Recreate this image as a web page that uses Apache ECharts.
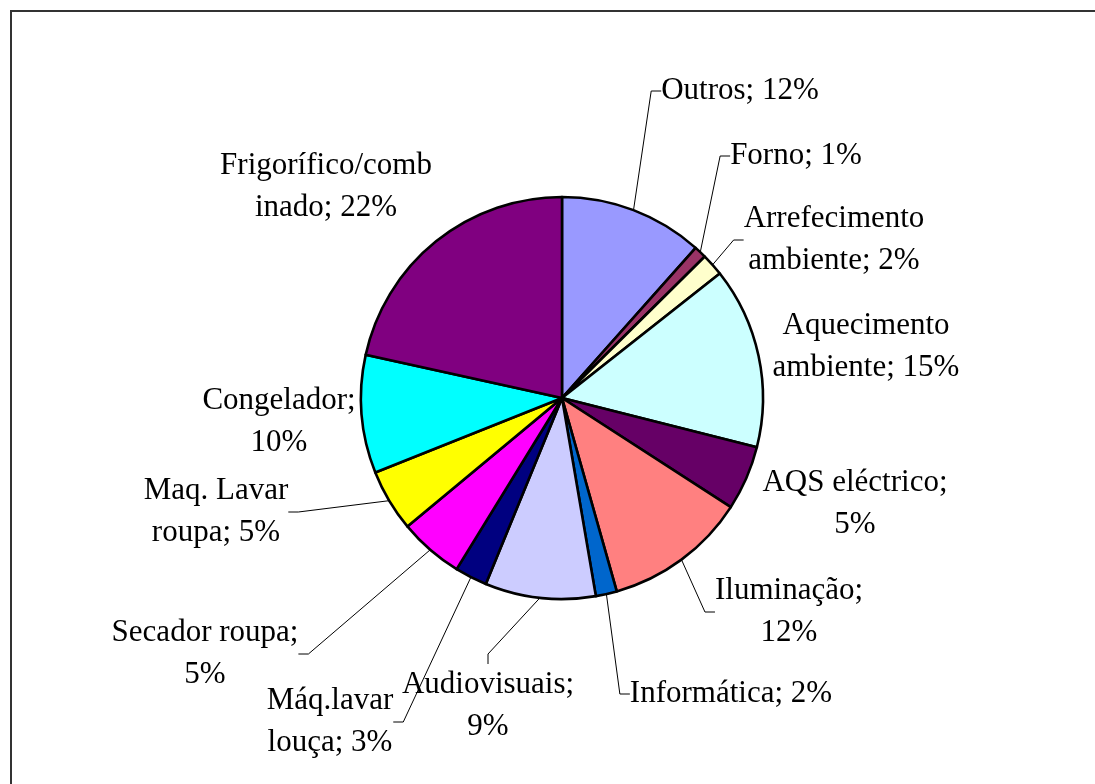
<!DOCTYPE html>
<html>
<head>
<meta charset="utf-8">
<style>
  html, body { margin: 0; padding: 0; background: #fff; }
  #chart { width: 1095px; height: 784px; }
</style>
<script src="https://cdn.jsdelivr.net/npm/echarts@6/dist/echarts.min.js"></script>
</head>
<body>
<div id="chart"></div>
<script>
// consumo por uso final (%), a partir das 12h no sentido dos ponteiros
var categories = ['Outros', 'Forno', 'Arrefecimento ambiente', 'Aquecimento ambiente', 'AQS eléctrico',
  'Iluminação', 'Informática', 'Audiovisuais', 'Máq.lavar louça', 'Secador roupa',
  'Maq. Lavar roupa', 'Congelador', 'Frigorífico/combinado']
var values = [11.6, 1.0, 1.8, 14.6, 5.2, 11.5, 1.7, 8.9, 2.6, 5.2, 5.0, 9.5, 21.6]
// texto das etiquetas tal como aparecem (com quebras de linha)
var labelNames = ['Outros', 'Forno', 'Arrefecimento\nambiente', 'Aquecimento\nambiente', 'AQS eléctrico;\n',
  'Iluminação;\n', 'Informática', 'Audiovisuais;\n', 'Máq.lavar\nlouça', 'Secador roupa;\n',
  'Maq. Lavar\nroupa', 'Congelador;\n', 'Frigorífico/comb\ninado']

var colors = ['#9999FF', '#993366', '#FFFFCC', '#CCFFFF', '#660066', '#FF8080', '#0066CC',
  '#CCCCFF', '#000080', '#FF00FF', '#FFFF00', '#00FFFF', '#800080']
var showLeader = [true, true, true, false, false, true, true, true, true, true, true, false, false]
var labelPos = [[740, 91], [796, 156], [834, 240], [866, 347], [855, 504], [789, 612], [731, 694],
  [488, 706], [330, 722], [205, 654], [216, 512], [279, 422], [326, 187]]

var chart = echarts.init(document.getElementById('chart'))

chart.setOption({
  backgroundColor: '#fff',
  animation: false,
  graphic: [{
    type: 'rect',
    shape: { x: 11, y: 11, width: 1200, height: 900 },
    style: { fill: 'none', stroke: '#333', lineWidth: 2 },
    silent: true
  }],
  series: [{
    type: 'pie',
    center: [562, 398],
    radius: 201,
    startAngle: 90,
    clockwise: true,
    avoidLabelOverlap: false,
    itemStyle: {
      borderColor: '#000',
      borderWidth: 2.6
    },
    label: {
      show: true,
      position: 'outside',
      fontFamily: 'Liberation Serif',
      fontSize: 31,
      lineHeight: 42,
      color: '#000',
      align: 'center',
      formatter: function (p) {
        var n = labelNames[p.dataIndex]
        var pct = Math.round(p.value) + '%'
        if (n.charAt(n.length - 1) === '\n') return n + pct
        return n + '; ' + pct
      }
    },
    labelLine: {
      show: true,
      length: 10,
      length2: 10,
      smooth: false,
      lineStyle: { color: '#000', width: 1 }
    },
    labelLayout: function (params) {
      var pos = labelPos[params.dataIndex]
      return { x: pos[0], y: pos[1], align: 'center', verticalAlign: 'middle' }
    },
    data: categories.map(function (name, i) {
      return {
        name: name,
        value: values[i],
        itemStyle: { color: colors[i] },
        labelLine: { show: showLeader[i] }
      }
    })
  }]
})
</script>
</body>
</html>
